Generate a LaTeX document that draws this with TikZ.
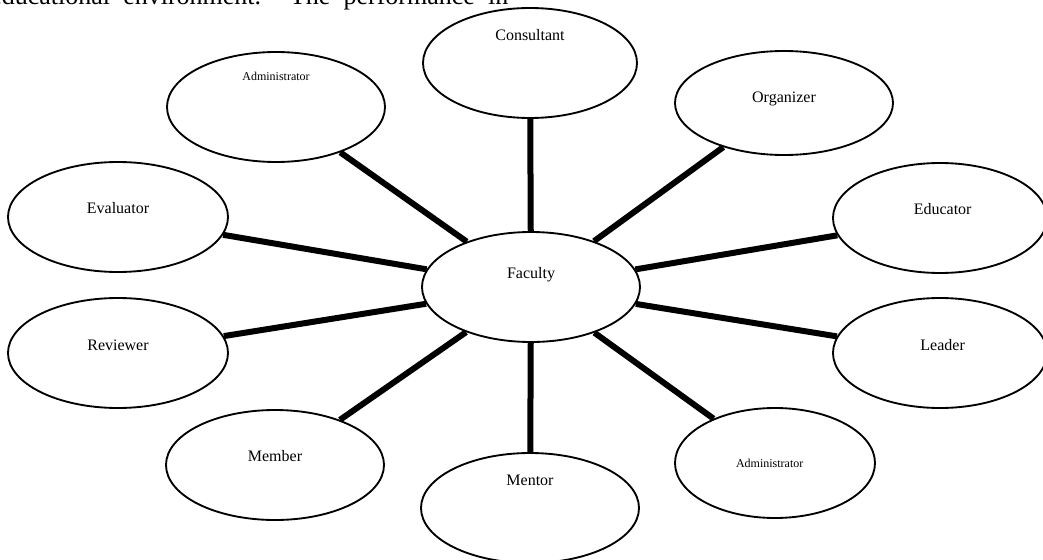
\documentclass[tikz,border=0pt]{standalone}
\usepackage{fontspec}
\setmainfont{Liberation Serif}
\usetikzlibrary{shapes.geometric}

\begin{document}
\begin{tikzpicture}[x = 0.75pt, y = -0.75pt,
		role/.style = {ellipse, draw, line width = 1.4pt, minimum width = 163.5pt, minimum height = 82.5pt, inner sep = 0pt},
		link/.style = {line width = 4.5pt},
		every label/.style = {font = \fontsize{12}{14}\selectfont, inner sep = 0pt}]
	
		\useasboundingbox (0, 0) rectangle (1043, 560);
		
		\begin{scope}
			\clip (0, 0) rectangle (1043, 560);
			\node[anchor = base west, inner sep = 0pt, font = \fontsize{19.5}{22}\selectfont] (para) at (-10, 4.5) {\makebox[388.5pt][s]{educational environment. The performance in}};
		\end{scope}
		
		\node[role, label = {[yshift = 9pt]center:Faculty}] (faculty) at (531, 287) {};
		
		\node[role, minimum width = 160.5pt, label = {[yshift = 21pt]center:Consultant}] (consultant) at (530, 63) {};
		\node[role, label = {[yshift = 23pt, font = \fontsize{9}{11}\selectfont]center:Administrator}] (admintop) at (276, 107) {};
		\node[role, minimum height = 78pt, label = {[yshift = 3pt]center:Organizer}] (organizer) at (784, 103) {};
		\node[role, minimum width = 165pt, label = {[yshift = 7pt]center:Evaluator}] (evaluator) at (118, 217) {};
		\node[role, minimum width = 160.5pt, label = {[yshift = 7pt, xshift = 2pt]center:Educator}] (educator) at (940, 218) {};
		\node[role, minimum width = 165pt, label = {[yshift = 6pt]center:Reviewer}] (reviewer) at (118, 353) {};
		\node[role, minimum width = 160.5pt, label = {[yshift = 6pt, xshift = 2pt]center:Leader}] (leader) at (940, 353) {};
		\node[role, label = {[yshift = 7pt]center:Member}] (member) at (275, 465) {};
		\node[role, label = {[yshift = 21pt]center:Mentor}] (mentor) at (530, 508) {};
		\node[role, minimum width = 150pt, label = {[xshift = -4pt, font = \fontsize{9}{11}\selectfont]center:Administrator}] (adminlow) at (775, 463) {};
		
		\draw[link] (faculty) -- (consultant);
		\draw[link] (faculty) -- (admintop);
		\draw[link] (faculty) -- (organizer);
		\draw[link] (faculty) -- (evaluator);
		\draw[link] (faculty) -- (educator);
		\draw[link] (faculty) -- (reviewer);
		\draw[link] (faculty) -- (leader);
		\draw[link] (faculty) -- (member);
		\draw[link] (faculty) -- (mentor);
		\draw[link] (faculty) -- (adminlow);
		
	\end{tikzpicture}
\end{document}
